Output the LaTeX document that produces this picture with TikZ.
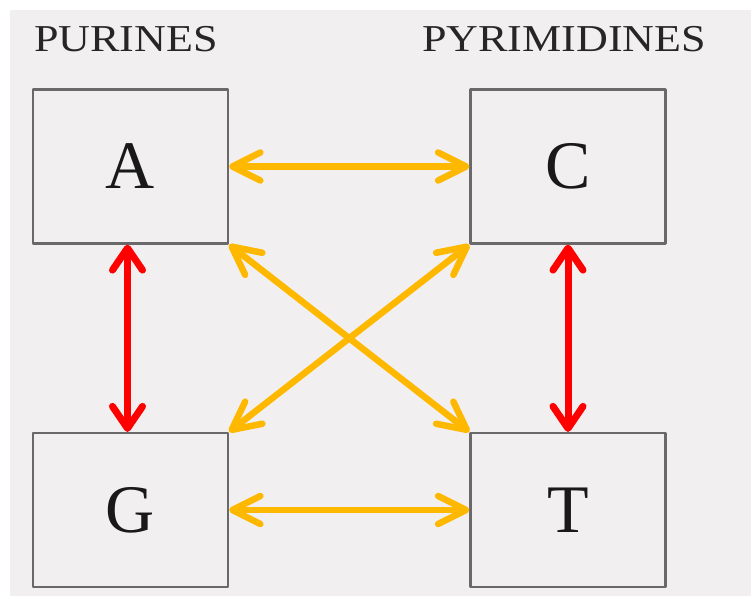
\documentclass[tikz,border=0pt]{standalone}
\usepackage{fontspec}
\setmainfont{Liberation Serif}
\usepackage{graphicx}
\usetikzlibrary{arrows.meta}

\definecolor{paper}{RGB}{241,239,239}
\definecolor{boxline}{RGB}{105,105,105}
\definecolor{swapyel}{RGB}{255,184,0}
\definecolor{swapred}{RGB}{255,0,0}

\tikzset{
  base/.style={draw=boxline, line width=2.2pt, minimum width=195pt, minimum height=154pt,
    inner sep=0pt, font=\fontsize{68}{68}\selectfont, text=black!90},
  group/.style={anchor=base west, inner sep=0pt, font=\fontsize{38}{38}\selectfont, text=black!85},
  transv/.style={draw=swapyel, line width=6.5pt, line cap=round,
    {Straight Barb[length=28pt,width=28pt,round]}-{Straight Barb[length=28pt,width=28pt,round]}},
  transi/.style={draw=swapred, line width=7pt, line cap=round,
    {Straight Barb[length=22pt,width=30pt,round]}-{Straight Barb[length=22pt,width=30pt,round]}}
}

\begin{document}
\begin{tikzpicture}[x=1pt, y=-1pt, line join=round]
\useasboundingbox (0,0) rectangle (751,596);
\fill[white] (0,0) rectangle (751,596);
\fill[paper] (10,10) rectangle (751,596);
% headings
\node[group] (pur) at (34,52) {\scalebox{1.16}[1]{PURINES}};
\node[group] (pyr) at (422,52) {\scalebox{1.16}[1]{PYRIMIDINES}};
% the four bases
\node[base] (A) at (130.5,166.5) {A};
\node[base] (C) at (568,166.5) {C};
\node[base] (G) at (130.5,510) {G};
\node[base] (T) at (568,510) {T};
% transversions
\draw[transv] (A.east) -- (C.west);
\draw[transv] (G.east) -- (T.west);
\draw[transv] (A.south east) -- (T.north west);
\draw[transv] (C.south west) -- (G.north east);
% transitions
\draw[transi] ([xshift=-3pt]A.south) -- ([xshift=-3pt]G.north);
\draw[transi] (C.south) -- (T.north);
\end{tikzpicture}
\end{document}
